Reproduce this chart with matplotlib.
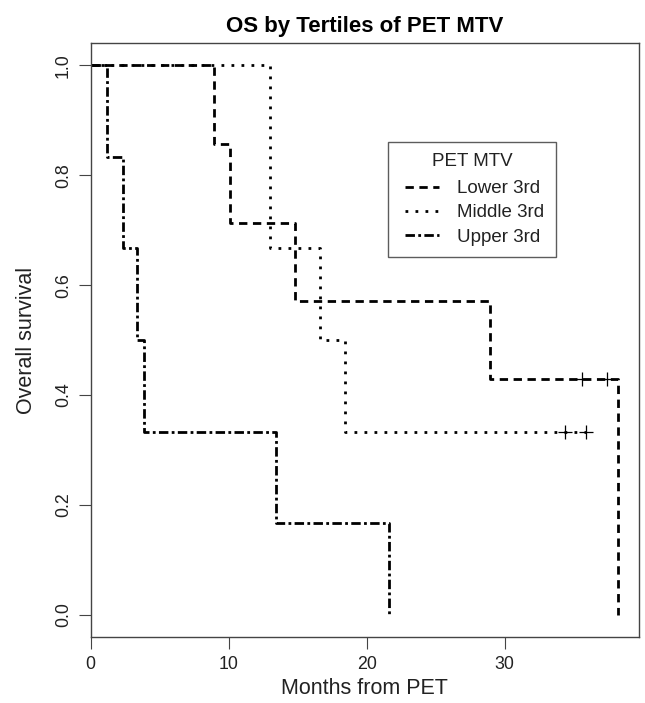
import matplotlib
matplotlib.use("Agg")
import matplotlib.pyplot as plt
from matplotlib.lines import Line2D
from matplotlib.legend_handler import HandlerLine2D

# ---- data ----
lower_t = [0, 8.9, 10.1, 14.8, 28.9, 38.2]
lower_s = [1.0, 0.857, 0.714, 0.571, 0.429, 0.0]
lower_cens_t = [35.6, 37.4]
lower_cens_s = [0.429, 0.429]

middle_t = [0, 13.0, 16.6, 18.4, 35.9]
middle_s = [1.0, 0.667, 0.5, 0.333, 0.333]
middle_cens_t = [34.4, 35.9]
middle_cens_s = [0.333, 0.333]

upper_t = [0, 1.16, 2.36, 3.33, 3.86, 13.4, 21.6]
upper_s = [1.0, 0.833, 0.667, 0.5, 0.333, 0.167, 0.0]

labels = ["Lower 3rd", "Middle 3rd", "Upper 3rd"]
xticks = [0, 10, 20, 30]
yticks = [0.0, 0.2, 0.4, 0.6, 0.8, 1.0]

plt.rcParams['font.family'] = ['Liberation Sans', 'DejaVu Sans']
txt = '#222222'
box = '#444444'

fig = plt.figure(figsize=(6.45, 7.03), dpi=100)
ax = fig.add_axes([0.1406, 0.0939, 0.8501, 0.8445])

lw = 2.0
ax.step(lower_t, lower_s, where='post', color='black', lw=lw,
        dashes=(3.0, 2.0), label=labels[0])
ax.step(middle_t, middle_s, where='post', color='black', lw=lw,
        dashes=(1.0, 2.6), label=labels[1])
ax.step(upper_t, upper_s, where='post', color='black', lw=lw,
        dashes=(3.4, 1.2, 1.0, 1.2), label=labels[2])

ax.plot(lower_cens_t, lower_cens_s, linestyle='none', marker='+',
        color='black', markersize=10, markeredgewidth=0.9)
ax.plot(middle_cens_t, middle_cens_s, linestyle='none', marker='+',
        color='black', markersize=10, markeredgewidth=0.9)

ax.set_xlim(0, 38.2 * 1.04)
ax.set_ylim(-0.04, 1.04)
ax.set_xticks(xticks)
ax.set_xticklabels([str(v) for v in xticks])
ax.set_yticks(yticks)
ax.set_yticklabels([f"{v:.1f}" for v in yticks], rotation=90, va='center')

for s in ax.spines.values():
    s.set_color(box)
    s.set_linewidth(1.0)

ax.tick_params(axis='both', direction='out', length=8.4, width=0.8,
               color=box, labelsize=12.8, labelcolor=txt)
ax.tick_params(axis='x', pad=5)
ax.tick_params(axis='y', pad=5)

ax.set_title("OS by Tertiles of PET MTV", fontsize=16, fontweight='bold',
             color='black', pad=8)
ax.set_xlabel("Months from PET", fontsize=15.5, color=txt, labelpad=4)
ax.set_ylabel("Overall survival", fontsize=15.5, color=txt, labelpad=13)

fs = 13.5
leg = ax.legend(title="PET MTV", loc='upper left',
                bbox_to_anchor=(0.543, 0.834), fontsize=fs,
                title_fontsize=fs, frameon=True, fancybox=False,
                handlelength=2.12, handletextpad=0.96, labelspacing=0.38,
                borderpad=0.6, borderaxespad=0,
                handler_map={Line2D: HandlerLine2D(xpad=0.30)})
leg._legend_box.sep = 0.38 * fs + 2.0
leg.get_frame().set_edgecolor('#333333')
leg.get_frame().set_linewidth(1.0)
for t in leg.get_texts():
    t.set_color(txt)
leg.get_title().set_color(txt)

fig.savefig("out.png", dpi=100)
